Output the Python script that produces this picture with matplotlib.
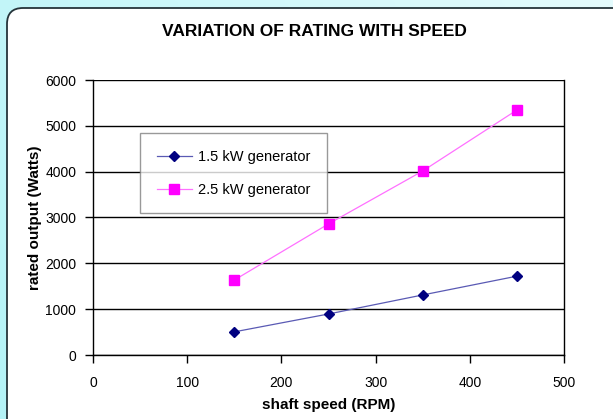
import numpy as np
import matplotlib
matplotlib.use("Agg")
import matplotlib.pyplot as plt
from matplotlib.patches import FancyBboxPatch
from matplotlib.colors import LinearSegmentedColormap

plt.rcParams['font.family'] = ['Liberation Sans', 'DejaVu Sans']

# data
speed_rpm = [150, 250, 350, 450]
gen_15kw = [505, 895, 1310, 1720]
gen_25kw = [1635, 2860, 4015, 5345]

fig = plt.figure(figsize=(6.13, 4.19), dpi=100)

# background gradient + white rounded panel
bg = fig.add_axes([0, 0, 1, 1])
bg.set_axis_off()
cmap = LinearSegmentedColormap.from_list("bg", ["#b4f3f7", "#e4fbfd"])
xx, yy = np.meshgrid(np.linspace(0, 1, 200), np.linspace(0, 1, 200))
bg.imshow(0.7 * xx + 0.3 * yy, cmap=cmap, extent=[0, 613, 0, 419], origin="lower", aspect="auto")
panel = FancyBboxPatch((7, -100), 800, 100 + 419 - 8, boxstyle="round,pad=0,rounding_size=16",
                       facecolor="white", edgecolor="#25343a", linewidth=1.3)
bg.add_patch(panel)
bg.set_xlim(0, 613)
bg.set_ylim(0, 419)

ax = fig.add_axes([93 / 613, 64 / 419, 471 / 613, 275 / 419])
ax.set_facecolor("none")
ax.plot(speed_rpm, gen_15kw, color="#5a5ab4", linewidth=0.9, marker="D", markersize=5,
        markerfacecolor="#000080", markeredgecolor="#000080", label="1.5 kW generator")
ax.plot(speed_rpm, gen_25kw, color="#ff70ff", linewidth=0.9, marker="s", markersize=6.5,
        markerfacecolor="#ff00ff", markeredgecolor="#ff00ff", label="2.5 kW generator")

ax.set_xlim(0, 500)
ax.set_ylim(0, 6000)
ax.set_xticks(range(0, 501, 100))
ax.set_yticks(range(0, 6001, 1000))
ax.grid(axis="y", color="black", linewidth=1)
ax.set_axisbelow(True)
ax.spines["top"].set_visible(False)
for s in ["left", "right", "bottom"]:
    ax.spines[s].set_linewidth(1)
    ax.spines[s].set_color("black")
ax.tick_params(direction="out", length=6, width=1, labelsize=10)
ax.tick_params(axis="x", pad=9)
ax.tick_params(axis="y", pad=6)

ax.set_xlabel("shaft speed (RPM)", fontsize=11, fontweight="bold", labelpad=6)
ax.set_ylabel("rated output (Watts)", fontsize=11, fontweight="bold", labelpad=2)
fig.text(314 / 613, 1 - 31 / 419, "VARIATION OF RATING WITH SPEED", fontsize=12.5,
         fontweight="bold", ha="center", va="center")

leg = ax.legend(loc="upper left", bbox_to_anchor=(47 / 471, (355 - 133) / 275), fontsize=10.5,
                frameon=True, fancybox=False, edgecolor="#808080", borderpad=1.15,
                labelspacing=1.3, handlelength=2.4, handletextpad=0.4, borderaxespad=0)
leg.get_frame().set_linewidth(1)

fig.savefig("out.png", dpi=100)
